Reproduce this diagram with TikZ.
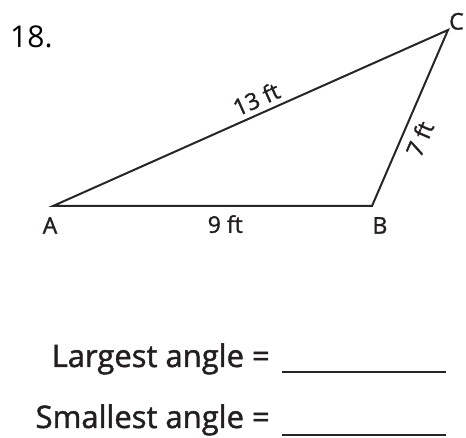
\documentclass[tikz,border=0pt]{standalone}
\usepackage{fontspec}
\setmainfont{Open Sans}
\newfontfamily\medfont{Open Sans}[FakeBold=1.4]
\usepackage{tikz}
\usetikzlibrary{positioning}
\definecolor{ink}{HTML}{231F20}
\definecolor{edgegray}{HTML}{262626}

\begin{document}
\begin{tikzpicture}[x=1pt,y=1pt,
  edge/.style={edgegray,line width=2pt,line join=miter},
  vlabel/.style={ink,font=\medfont\fontsize{23}{23}\selectfont,inner sep=0pt},
  slabel/.style={ink,font=\medfont\fontsize{23}{23}\selectfont,inner sep=0pt},
  prompt/.style={ink,font=\medfont\fontsize{31}{31}\selectfont,anchor=base east,inner sep=0pt},
  blank/.style={edgegray,line width=2pt}]
  \useasboundingbox (0,0) rectangle (466,438);
  \node[anchor=base west,inner sep=0pt,font=\fontsize{30}{30}\selectfont] (num) at (10,390) {18.};

  \coordinate (A) at (53,232);
  \coordinate (B) at (372,232);
  \coordinate (C) at (448,408);
  \draw[edge] (A) -- (B) -- (C) -- cycle;

  \node[vlabel,below=11pt of A,xshift=-3pt] (la) {A};
  \node[vlabel,below=11pt of B,xshift=8pt] (lb) {B};
  \node[vlabel,above right=0pt and 1pt of C] (lc) {C};

  \path (A) -- node[slabel,pos=0.54,below=9pt] (base) {9 ft} (B);
  \path (A) -- node[slabel,pos=0.53,above=6pt,sloped] (long) {13 ft} (C);
  \path (B) -- node[slabel,pos=0.42,below=8pt,sloped] (short) {7 ft} (C);

  \node[prompt] (largest) at (270,71) {Largest angle =};
  \draw[blank] ([xshift=12pt,yshift=-5pt]largest.base east) -- +(164,0);
  \node[prompt] (smallest) at (270,10) {Smallest angle =};
  \draw[blank] ([xshift=12pt,yshift=-7pt]smallest.base east) -- +(164,0);
\end{tikzpicture}
\end{document}
